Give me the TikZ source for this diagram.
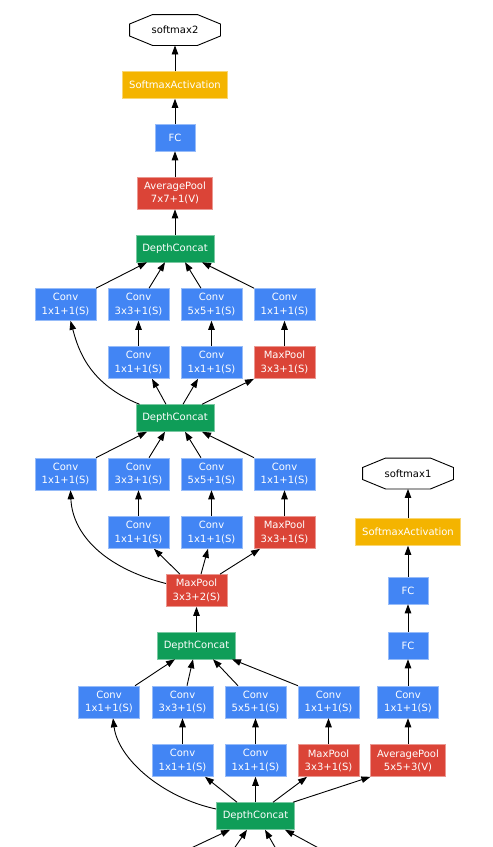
\documentclass[tikz,border=0pt]{standalone}
\usepackage{fontspec}
\setmainfont{DejaVu Sans}
\usepackage{tikz}
\usetikzlibrary{positioning,shapes,arrows.meta}

\definecolor{gblue}{HTML}{4285F4}
\definecolor{gred}{HTML}{DB4437}
\definecolor{ggreen}{HTML}{0F9D58}
\definecolor{gyellow}{HTML}{F4B400}

\begin{document}
\begin{tikzpicture}[x=1pt,y=-1pt,->,>={Triangle[length=9pt,width=6.5pt]},line width=0.9pt,
    layer/.style={rectangle, text=white, font=\fontsize{10}{13.3}\selectfont, align=center,
        inner xsep=6.5pt, inner ysep=5pt, minimum height=27, minimum width=40, line width=0.5pt},
    convbox/.style={layer, fill=gblue, draw=gblue!55!white},
    poolbox/.style={layer, fill=gred, draw=gred!55!white},
    concatbox/.style={layer, fill=ggreen, draw=ggreen!55!white},
    actbox/.style={layer, fill=gyellow, draw=gyellow!55!white},
    outnode/.style={font=\fontsize{10}{13.3}\selectfont, minimum width=90, minimum height=30, inner sep=0pt}]
    \useasboundingbox (0,0) rectangle (493,847);

    % softmax2 <- SoftmaxActivation <- FC <- AveragePool <- DepthConcat
    \node[outnode] (sm2) at (175,30) {softmax2};
    \draw[-] ([xshift=23]sm2.north west) -- ([xshift=-23]sm2.north east) -- ([yshift=6]sm2.east) -- ([yshift=-6]sm2.east)
        -- ([xshift=-23]sm2.south east) -- ([xshift=23]sm2.south west) -- ([yshift=-6]sm2.west) -- ([yshift=6]sm2.west) -- cycle;
    \node[actbox] (sa2) at (175,85) {SoftmaxActivation};
    \node[convbox] (fc2) at (175,137.5) {FC};
    \node[poolbox] (ap2) at (175,193) {AveragePool\\7x7+1(V)};
    \node[concatbox] (dcA) at (175,248.5) {DepthConcat};

    \draw (sa2) -- (sm2);
    \draw (fc2) -- (sa2);
    \draw (ap2) -- (fc2);
    \draw (dcA) -- (ap2);

    % inception block 1
    \node[convbox] (a1) at (65.5,304.5) {Conv\\1x1+1(S)};
    \node[convbox] (a2) at (138.5,304.5) {Conv\\3x3+1(S)};
    \node[convbox] (a3) at (211.5,304.5) {Conv\\5x5+1(S)};
    \node[convbox] (a4) at (284.5,304.5) {Conv\\1x1+1(S)};
    \node[convbox] (a5) at (138.5,362.5) {Conv\\1x1+1(S)};
    \node[convbox] (a6) at (211.5,362.5) {Conv\\1x1+1(S)};
    \node[poolbox] (a7) at (284.5,362.5) {MaxPool\\3x3+1(S)};
    \node[concatbox] (dcB) at (175,418) {DepthConcat};

    \draw (a1.north east) -- ([xshift=-28]dcA.south);
    \draw ([xshift=10.5]a2.north) -- ([xshift=-10]dcA.south);
    \draw ([xshift=-10.5]a3.north) -- ([xshift=10]dcA.south);
    \draw (a4.north west) -- ([xshift=27]dcA.south);
    \draw (a5) -- (a2);
    \draw (a6) -- (a3);
    \draw (a7) -- (a4);
    \draw ([xshift=4]dcB.north west) .. controls +(-50,-20) and +(8,30) .. ([xshift=5]a1.south);
    \draw ([xshift=-9]dcB.north) -- ([xshift=13.5]a5.south);
    \draw ([xshift=8]dcB.north) -- ([xshift=-13.5]a6.south);
    \draw ([xshift=27]dcB.north) -- (a7.south west);

    % inception block 2
    \node[convbox] (b1) at (65.5,474) {Conv\\1x1+1(S)};
    \node[convbox] (b2) at (138.5,474) {Conv\\3x3+1(S)};
    \node[convbox] (b3) at (211.5,474) {Conv\\5x5+1(S)};
    \node[convbox] (b4) at (284.5,474) {Conv\\1x1+1(S)};
    \node[convbox] (b5) at (138.5,532.5) {Conv\\1x1+1(S)};
    \node[convbox] (b6) at (211.5,532.5) {Conv\\1x1+1(S)};
    \node[poolbox] (b7) at (284.5,532.5) {MaxPool\\3x3+1(S)};
    \node[poolbox] (mp) at (196.5,590.5) {MaxPool\\3x3+2(S)};
    \node[concatbox] (dcC) at (196.5,645.5) {DepthConcat};

    \draw (b1.north east) -- ([xshift=-28]dcB.south);
    \draw ([xshift=10.5]b2.north) -- ([xshift=-10]dcB.south);
    \draw ([xshift=-10.5]b3.north) -- ([xshift=10]dcB.south);
    \draw (b4.north west) -- ([xshift=27]dcB.south);
    \draw (b5) -- (b2);
    \draw (b6) -- (b3);
    \draw (b7) -- (b4);
    \draw ([yshift=7]mp.west) .. controls +(-60,-15) and +(2,45) .. ([xshift=5]b1.south);
    \draw ([xshift=-16.5]mp.north) -- ([xshift=15.5]b5.south);
    \draw ([xshift=4.5]mp.north) -- ([xshift=-3.5]b6.south);
    \draw ([xshift=23.5]mp.north) -- ([xshift=-24.5]b7.south);
    \draw (dcC) -- (mp);

    % inception block 3 and side branch
    \node[convbox] (c1) at (109,702) {Conv\\1x1+1(S)};
    \node[convbox] (c2) at (182.5,702) {Conv\\3x3+1(S)};
    \node[convbox] (c3) at (255.5,702) {Conv\\5x5+1(S)};
    \node[convbox] (c4) at (328.5,702) {Conv\\1x1+1(S)};
    \node[convbox] (c5) at (182.5,760.5) {Conv\\1x1+1(S)};
    \node[convbox] (c6) at (255.5,760.5) {Conv\\1x1+1(S)};
    \node[poolbox] (c7) at (328.5,760.5) {MaxPool\\3x3+1(S)};
    \node[concatbox] (dcD) at (255.5,816) {DepthConcat};

    \node[outnode] (sm1) at (408,473.5) {softmax1};
    \draw[-] ([xshift=23]sm1.north west) -- ([xshift=-23]sm1.north east) -- ([yshift=6]sm1.east) -- ([yshift=-6]sm1.east)
        -- ([xshift=-23]sm1.south east) -- ([xshift=23]sm1.south west) -- ([yshift=-6]sm1.west) -- ([yshift=6]sm1.west) -- cycle;
    \node[actbox] (sa1) at (408,532) {SoftmaxActivation};
    \node[convbox] (xf1) at (408,590.5) {FC};
    \node[convbox] (xf2) at (408,645.5) {FC};
    \node[convbox] (x1) at (408,702) {Conv\\1x1+1(S)};
    \node[poolbox] (x2) at (408,760.5) {AveragePool\\5x5+3(V)};

    \draw ([xshift=-4.5]c1.north east) -- ([xshift=-21.5]dcC.south);
    \draw ([xshift=4.5]c2.north) -- ([xshift=-3.5]dcC.south);
    \draw ([xshift=-17.5]c3.north) -- ([xshift=16.5]dcC.south);
    \draw (c4.north west) -- ([xshift=35.5]dcC.south);
    \draw (c5) -- (c2);
    \draw (c6) -- (c3);
    \draw (c7) -- (c4);
    \draw (sa1) -- (sm1);
    \draw (xf1) -- (sa1);
    \draw (xf2) -- (xf1);
    \draw (x1) -- (xf2);
    \draw (x2) -- (x1);
    \draw ([yshift=7]dcD.west) .. controls +(-55,-12) and +(5,40) .. ([xshift=4]c1.south);
    \draw ([xshift=-18.5]dcD.north) -- ([xshift=22.5]c5.south);
    \draw (dcD) -- (c6);
    \draw ([xshift=17.5]dcD.north) -- ([xshift=-21.5]c7.south);
    \draw ([xshift=37.5]dcD.north) -- (x2.south west);

    % inputs from below
    \coordinate (in1) at (182.7,852);
    \coordinate (in2) at (231.7,852);
    \coordinate (in3) at (277.8,852);
    \coordinate (in4) at (325.9,852);
    \draw (in1) -- ([xshift=-25.5]dcD.south);
    \draw (in2) -- ([xshift=-8.5]dcD.south);
    \draw (in3) -- ([xshift=9.5]dcD.south);
    \draw (in4) -- ([xshift=29.5]dcD.south);
\end{tikzpicture}
\end{document}
